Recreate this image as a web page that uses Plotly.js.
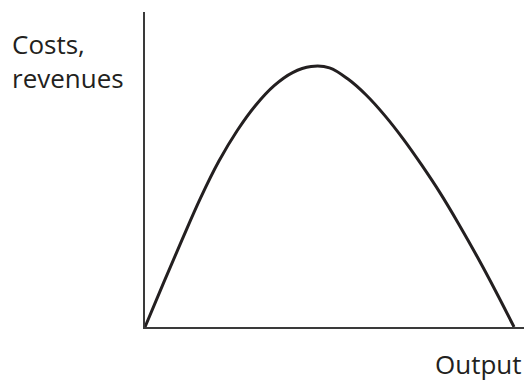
<!DOCTYPE html>
<html>
<head>
<meta charset="utf-8">
<script src="https://cdn.plot.ly/plotly-3.0.1.min.js"></script>
<style>
  html, body { margin: 0; padding: 0; background: #ffffff; }
  #chart { width: 524px; height: 383px; }
</style>
</head>
<body>
<div id="chart"></div>
<script>
// Total revenue rises, peaks, then falls back to zero as output grows
const output  = [0, 5, 10, 15, 20, 25, 30, 35, 40, 45, 50, 55, 60, 65, 70, 75, 80, 85, 90, 95, 100];
const revenue = [0, 16.8, 33.3, 49.3, 63.5, 75.3, 85.0, 92.5, 97.5, 99.8, 99.3, 95.0, 88.8, 81.0, 72.0, 62.0, 51.3, 39.5, 27.0, 13.8, 0];

const yLabel = ['Costs,', 'revenues'];
const xLabel = 'Output';

const ink = '#231f20';
const labelFont = { family: 'Open Sans, Noto Sans, sans-serif', size: 26, color: ink };

const trace = {
  x: output,
  y: revenue,
  type: 'scatter',
  mode: 'lines',
  line: { color: ink, width: 3, shape: 'spline', smoothing: 1 },
  cliponaxis: false,
  hoverinfo: 'skip'
};

const axisBase = {
  showgrid: false,
  zeroline: false,
  showticklabels: false,
  ticks: '',
  showline: true,
  linecolor: '#3a3a3a',
  linewidth: 2,
  fixedrange: true
};

const layout = {
  width: 524,
  height: 383,
  margin: { l: 145, r: 0, t: 12, b: 56 },
  paper_bgcolor: '#ffffff',
  plot_bgcolor: '#ffffff',
  showlegend: false,
  xaxis: Object.assign({}, axisBase, { range: [0, 102.7] }),
  yaxis: Object.assign({}, axisBase, { range: [0, 120.7] }),
  annotations: [
    {
      text: yLabel.join('<br>'),
      xref: 'paper', yref: 'paper',
      x: -0.3536, y: 0.843,
      xanchor: 'left', yanchor: 'middle',
      align: 'left',
      showarrow: false,
      borderpad: 0,
      font: labelFont
    },
    {
      text: xLabel,
      xref: 'paper', yref: 'paper',
      x: 0.997, y: -0.118,
      xanchor: 'right', yanchor: 'middle',
      showarrow: false,
      borderpad: 0,
      font: labelFont
    }
  ]
};

Plotly.newPlot('chart', [trace], layout, { staticPlot: true, displayModeBar: false });
</script>
</body>
</html>
